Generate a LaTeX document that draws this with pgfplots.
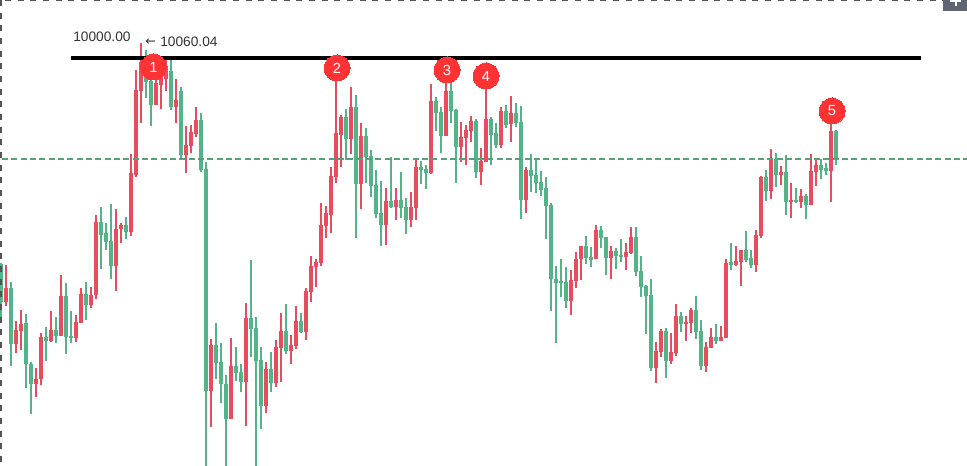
\documentclass[border=0pt]{standalone}
\usepackage{pgfplots}
\pgfplotsset{compat=1.18}
\usepackage{pgfplotstable}
\usepackage{fontspec}
\setmainfont{Liberation Sans}
\newfontfamily\arrowfont{DejaVu Sans}
\definecolor{upc}{HTML}{E84D5D}
\definecolor{dnc}{HTML}{53B587}
\definecolor{dashc}{HTML}{5A9F7C}
\definecolor{badge}{HTML}{FF3333}
\definecolor{framec}{HTML}{555555}
\definecolor{boxc}{HTML}{5F6672}
\definecolor{txtc}{HTML}{333333}
% columns: pixel x, wick top, wick bottom, body top, body bottom (rows of the picture)
\pgfplotstableread{
x wh wl bh bl
6 265 306 288 302
16 321 353 330 344
21 310 350 324 331
36 368 397 379 384
41 333 385 337 379
51 311 342 330 341
61 275 336 296 336
76 315 342 322 338
81 288 323 294 323
91 287 308 295 305
96 215 299 222 295
116 209 291 229 266
121 223 243 225 229
131 154 236 173 232
136 70 177 90 175
141 43 123 62 91
156 60 105 83 105
161 57 109 60 85
166 60 91 66 79
176 79 123 100 107
186 126 173 145 155
191 125 153 132 146
196 107 137 120 134
211 339 427 345 391
231 338 419 366 419
246 303 426 318 382
266 362 413 369 406
276 340 387 347 383
281 313 382 331 348
291 335 364 345 351
296 306 349 321 346
306 288 340 291 332
311 256 302 266 292
316 259 287 262 267
321 203 266 225 263
326 206 238 213 226
331 167 233 176 215
336 68 183 133 177
341 115 167 117 135
351 87 154 107 139
361 123 209 136 184
386 188 245 201 225
396 188 220 200 207
411 192 227 207 220
416 158 220 167 208
431 84 174 101 173
446 70 136 91 136
461 122 162 137 147
466 125 165 130 138
471 116 142 121 131
481 148 185 161 172
486 76 162 119 162
501 107 148 111 145
511 96 142 113 124
526 167 213 170 200
571 270 315 280 301
576 252 288 259 281
581 246 280 246 259
596 225 259 230 259
611 246 279 251 258
626 243 270 252 257
631 227 254 237 253
656 342 383 351 368
661 329 357 331 352
671 333 364 352 361
676 304 356 316 353
686 316 341 322 324
691 308 333 310 323
706 342 372 347 366
711 328 348 337 348
721 326 341 337 341
726 259 338 263 338
736 246 266 261 265
741 250 286 250 262
756 230 272 235 265
761 176 238 177 236
771 149 199 160 191
781 166 185 172 175
791 183 218 200 202
801 189 208 196 202
811 154 205 171 205
816 158 186 165 172
831 111 202 131 171
}\upT
\pgfplotstableread{
x wh wl bh bl
1 263 319 264 302
11 282 366 288 344
26 314 388 323 364
31 362 414 364 384
46 327 361 337 341
56 317 343 330 336
66 283 354 296 337
71 311 343 336 338
86 282 320 294 305
101 207 269 222 235
106 223 250 233 242
111 204 279 241 266
126 217 239 225 232
146 50 98 58 82
151 70 126 81 105
171 59 110 71 107
181 87 159 91 155
201 113 172 120 170
206 162 466 169 391
216 323 379 345 363
221 343 403 362 384
226 375 466 384 419
236 347 381 366 373
241 364 392 372 382
251 260 357 318 329
256 317 466 328 361
261 347 429 360 406
271 352 392 369 383
286 304 354 331 351
301 313 333 321 332
346 109 160 117 139
356 95 238 107 184
366 128 183 136 157
371 150 197 156 186
376 170 218 185 214
381 181 246 213 225
391 157 208 201 207
401 172 218 200 208
406 198 234 207 220
421 161 184 167 170
426 165 189 169 173
436 97 131 101 113
441 107 153 112 136
451 83 123 91 111
456 109 183 110 147
476 119 178 121 172
491 117 165 119 135
496 123 148 133 145
506 105 128 111 125
516 103 127 113 123
521 106 219 122 200
531 154 192 170 176
536 159 193 175 183
541 171 196 182 190
546 177 239 188 206
551 203 311 205 279
556 266 343 279 283
561 259 297 281 283
566 267 308 282 301
586 236 264 246 258
591 247 267 257 260
601 226 248 230 238
606 237 275 237 258
616 248 269 251 256
621 239 262 255 257
636 227 276 237 272
641 256 297 271 287
646 285 334 286 296
651 279 371 295 368
666 328 378 331 361
681 312 332 316 324
696 296 339 310 332
701 320 370 331 366
716 324 344 337 341
731 243 270 262 265
746 231 262 250 260
751 250 268 258 265
766 170 201 177 191
776 153 187 159 175
786 155 215 172 202
796 188 203 200 202
806 194 219 196 205
821 159 179 165 170
826 163 175 168 171
836 130 165 131 159
}\dnT
\begin{document}
\begin{tikzpicture}
\begin{axis}[
  scale only axis, width=725.25pt, height=349.5pt,
  xmin=0, xmax=967, ymin=0, ymax=466, y dir=reverse,
  hide axis, clip=true,
  error bars/y dir=plus, error bars/y explicit, error bars/error mark=none,
]
% candle wicks and bodies
\addplot[draw=none, no marks, error bars/error bar style={upc, line width=.85pt}]
  table[x=x, y=wh, y error plus expr=\thisrow{wl}-\thisrow{wh}] {\upT};
\addplot[draw=none, no marks, error bars/error bar style={dnc, line width=.85pt}]
  table[x=x, y=wh, y error plus expr=\thisrow{wl}-\thisrow{wh}] {\dnT};
\addplot[draw=none, no marks, error bars/error bar style={upc, line width=3.3pt}]
  table[x=x, y=bh, y error plus expr=\thisrow{bl}-\thisrow{bh}] {\upT};
\addplot[draw=none, no marks, error bars/error bar style={dnc, line width=3.3pt}]
  table[x=x, y=bh, y error plus expr=\thisrow{bl}-\thisrow{bh}] {\dnT};
% level lines
\addplot[dashc, line width=1.4pt, dash pattern=on 4.4pt off 2.6pt] coordinates {(2,158.7)(967,158.7)};
\addplot[black, line width=2.4pt] coordinates {(71,58)(921,58)};
% frame
\addplot[framec, line width=1.2pt, dash pattern=on 4.5pt off 5pt] coordinates {(1,0)(1,466)};
\addplot[framec, line width=1.2pt, dash pattern=on 4.5pt off 5pt] coordinates {(5,0.7)(943,0.7)};
\addplot[fill=boxc, draw=none] coordinates {(943,0)(967,0)(967,11)(943,11)} --cycle;
\addplot[white, line width=1.5pt] coordinates {(950,1.5)(961,1.5)};
\addplot[white, line width=1.5pt] coordinates {(955.5,0)(955.5,6)};
% numbered badges
\addplot[only marks, mark=*, mark size=9.75pt, mark options={fill=badge, draw=badge, line width=0pt},
  point meta=explicit symbolic, nodes near coords,
  every node near coord/.append style={anchor=center, inner sep=0pt, text=white, font=\fontsize{11}{13}\selectfont}]
  coordinates {(153.5,67)[1] (337,68)[2] (447,70)[3] (486,76)[4] (832,111)[5]};
\node[txtc, font=\fontsize{10.3}{12}\selectfont, anchor=west, inner sep=0pt] at (axis cs:73,37) {10000.00};
\node[txtc, font=\arrowfont\fontsize{9.5}{12}\selectfont, anchor=west, inner sep=0pt] at (axis cs:145,42) {←};
\node[txtc, font=\fontsize{10.3}{12}\selectfont, anchor=west, inner sep=0pt] at (axis cs:160,42) {10060.04};
\end{axis}
\end{tikzpicture}
\end{document}
